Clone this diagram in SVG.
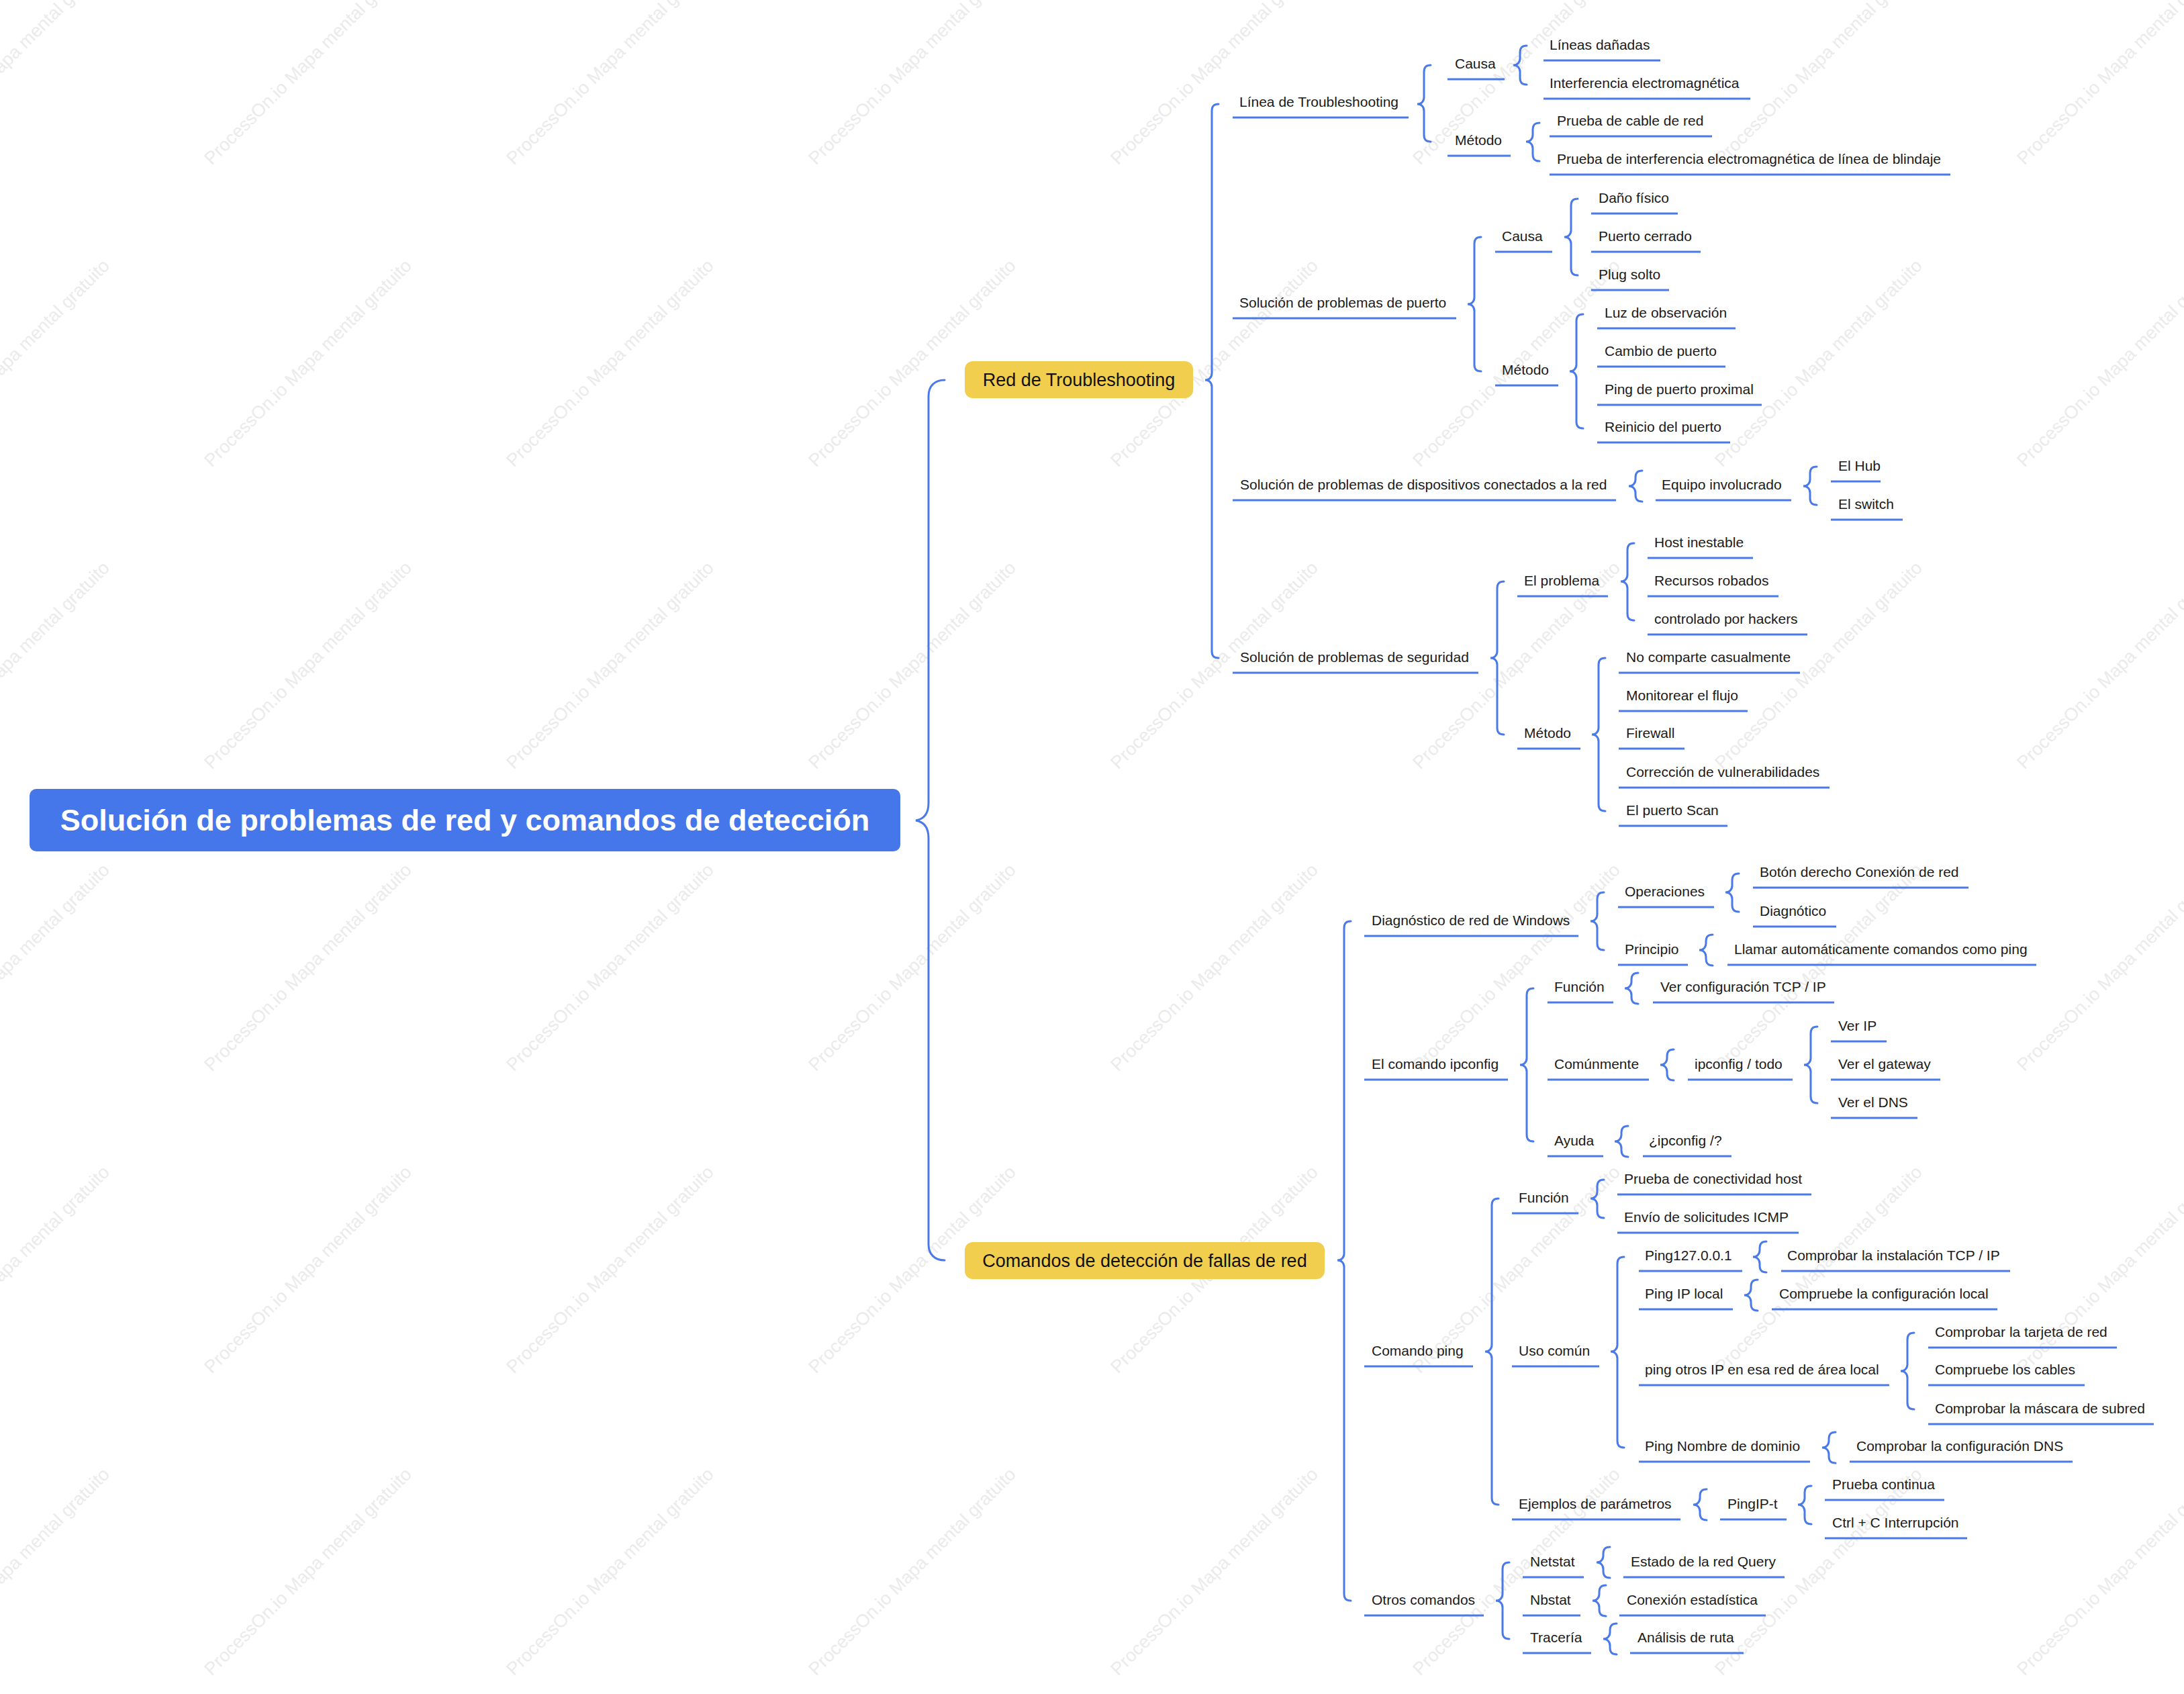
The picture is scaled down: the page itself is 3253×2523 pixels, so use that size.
<svg xmlns="http://www.w3.org/2000/svg" width="3253" height="2523" viewBox="0 0 3253 2523">
<style>
.wm{font-family:"Liberation Sans",Arial,sans-serif;font-size:27px;fill:#ebebeb;text-anchor:middle}
.n text{font-family:"Liberation Sans",Arial,sans-serif;font-size:21px;fill:#1a1a1a}
.n path{stroke:#4a7aea;stroke-width:3;fill:none}
.br path{stroke:#4a7aea;stroke-width:3;fill:none;stroke-linecap:round}
.l1 text{font-family:"Liberation Sans",Arial,sans-serif;font-size:27px;fill:#111;text-anchor:middle}
</style>
<rect width="3253" height="2523" fill="#fff"/>
<g id="watermarks">
<text class="wm" x="15" y="97" transform="rotate(-45 15 97)">ProcessOn.io Mapa mental gratuito</text>
<text class="wm" x="465" y="97" transform="rotate(-45 465 97)">ProcessOn.io Mapa mental gratuito</text>
<text class="wm" x="915" y="97" transform="rotate(-45 915 97)">ProcessOn.io Mapa mental gratuito</text>
<text class="wm" x="1365" y="97" transform="rotate(-45 1365 97)">ProcessOn.io Mapa mental gratuito</text>
<text class="wm" x="1815" y="97" transform="rotate(-45 1815 97)">ProcessOn.io Mapa mental gratuito</text>
<text class="wm" x="2265" y="97" transform="rotate(-45 2265 97)">ProcessOn.io Mapa mental gratuito</text>
<text class="wm" x="2715" y="97" transform="rotate(-45 2715 97)">ProcessOn.io Mapa mental gratuito</text>
<text class="wm" x="3165" y="97" transform="rotate(-45 3165 97)">ProcessOn.io Mapa mental gratuito</text>
<text class="wm" x="15" y="547" transform="rotate(-45 15 547)">ProcessOn.io Mapa mental gratuito</text>
<text class="wm" x="465" y="547" transform="rotate(-45 465 547)">ProcessOn.io Mapa mental gratuito</text>
<text class="wm" x="915" y="547" transform="rotate(-45 915 547)">ProcessOn.io Mapa mental gratuito</text>
<text class="wm" x="1365" y="547" transform="rotate(-45 1365 547)">ProcessOn.io Mapa mental gratuito</text>
<text class="wm" x="1815" y="547" transform="rotate(-45 1815 547)">ProcessOn.io Mapa mental gratuito</text>
<text class="wm" x="2265" y="547" transform="rotate(-45 2265 547)">ProcessOn.io Mapa mental gratuito</text>
<text class="wm" x="2715" y="547" transform="rotate(-45 2715 547)">ProcessOn.io Mapa mental gratuito</text>
<text class="wm" x="3165" y="547" transform="rotate(-45 3165 547)">ProcessOn.io Mapa mental gratuito</text>
<text class="wm" x="15" y="997" transform="rotate(-45 15 997)">ProcessOn.io Mapa mental gratuito</text>
<text class="wm" x="465" y="997" transform="rotate(-45 465 997)">ProcessOn.io Mapa mental gratuito</text>
<text class="wm" x="915" y="997" transform="rotate(-45 915 997)">ProcessOn.io Mapa mental gratuito</text>
<text class="wm" x="1365" y="997" transform="rotate(-45 1365 997)">ProcessOn.io Mapa mental gratuito</text>
<text class="wm" x="1815" y="997" transform="rotate(-45 1815 997)">ProcessOn.io Mapa mental gratuito</text>
<text class="wm" x="2265" y="997" transform="rotate(-45 2265 997)">ProcessOn.io Mapa mental gratuito</text>
<text class="wm" x="2715" y="997" transform="rotate(-45 2715 997)">ProcessOn.io Mapa mental gratuito</text>
<text class="wm" x="3165" y="997" transform="rotate(-45 3165 997)">ProcessOn.io Mapa mental gratuito</text>
<text class="wm" x="15" y="1447" transform="rotate(-45 15 1447)">ProcessOn.io Mapa mental gratuito</text>
<text class="wm" x="465" y="1447" transform="rotate(-45 465 1447)">ProcessOn.io Mapa mental gratuito</text>
<text class="wm" x="915" y="1447" transform="rotate(-45 915 1447)">ProcessOn.io Mapa mental gratuito</text>
<text class="wm" x="1365" y="1447" transform="rotate(-45 1365 1447)">ProcessOn.io Mapa mental gratuito</text>
<text class="wm" x="1815" y="1447" transform="rotate(-45 1815 1447)">ProcessOn.io Mapa mental gratuito</text>
<text class="wm" x="2265" y="1447" transform="rotate(-45 2265 1447)">ProcessOn.io Mapa mental gratuito</text>
<text class="wm" x="2715" y="1447" transform="rotate(-45 2715 1447)">ProcessOn.io Mapa mental gratuito</text>
<text class="wm" x="3165" y="1447" transform="rotate(-45 3165 1447)">ProcessOn.io Mapa mental gratuito</text>
<text class="wm" x="15" y="1897" transform="rotate(-45 15 1897)">ProcessOn.io Mapa mental gratuito</text>
<text class="wm" x="465" y="1897" transform="rotate(-45 465 1897)">ProcessOn.io Mapa mental gratuito</text>
<text class="wm" x="915" y="1897" transform="rotate(-45 915 1897)">ProcessOn.io Mapa mental gratuito</text>
<text class="wm" x="1365" y="1897" transform="rotate(-45 1365 1897)">ProcessOn.io Mapa mental gratuito</text>
<text class="wm" x="1815" y="1897" transform="rotate(-45 1815 1897)">ProcessOn.io Mapa mental gratuito</text>
<text class="wm" x="2265" y="1897" transform="rotate(-45 2265 1897)">ProcessOn.io Mapa mental gratuito</text>
<text class="wm" x="2715" y="1897" transform="rotate(-45 2715 1897)">ProcessOn.io Mapa mental gratuito</text>
<text class="wm" x="3165" y="1897" transform="rotate(-45 3165 1897)">ProcessOn.io Mapa mental gratuito</text>
<text class="wm" x="15" y="2347" transform="rotate(-45 15 2347)">ProcessOn.io Mapa mental gratuito</text>
<text class="wm" x="465" y="2347" transform="rotate(-45 465 2347)">ProcessOn.io Mapa mental gratuito</text>
<text class="wm" x="915" y="2347" transform="rotate(-45 915 2347)">ProcessOn.io Mapa mental gratuito</text>
<text class="wm" x="1365" y="2347" transform="rotate(-45 1365 2347)">ProcessOn.io Mapa mental gratuito</text>
<text class="wm" x="1815" y="2347" transform="rotate(-45 1815 2347)">ProcessOn.io Mapa mental gratuito</text>
<text class="wm" x="2265" y="2347" transform="rotate(-45 2265 2347)">ProcessOn.io Mapa mental gratuito</text>
<text class="wm" x="2715" y="2347" transform="rotate(-45 2715 2347)">ProcessOn.io Mapa mental gratuito</text>
<text class="wm" x="3165" y="2347" transform="rotate(-45 3165 2347)">ProcessOn.io Mapa mental gratuito</text>
</g>

<g id="connectors" class="br">
<path d="M1407 566C1392 566 1383 575 1383 590V1196C1383 1212 1376 1220 1364 1222C1376 1224 1383 1232 1383 1248V1853C1383 1868 1392 1877 1407 1877" stroke-width="4"/>
<path d="M1815 155c-7 0-10 3-10 10V556c0 6-4 10-10 10c6 0 10 4 10 10V970c0 7 3 10 10 10"/>
<path d="M2131 97c-7 0-10 3-10 10V145c0 6-4 10-10 10c6 0 10 4 10 10V201c0 7 3 10 10 10"/>
<path d="M2274 68c-7 0-10 3-10 10V87c0 6-4 10-10 10c6 0 10 4 10 10V116c0 7 3 10 10 10"/>
<path d="M2293 183c-7 0-10 3-10 10V201c0 6-4 10-10 10c6 0 10 4 10 10V230c0 7 3 10 10 10"/>
<path d="M2206 353c-7 0-10 3-10 10V443c0 6-4 10-10 10c6 0 10 4 10 10V543c0 7 3 10 10 10"/>
<path d="M2350 296c-7 0-10 3-10 10V343c0 6-4 10-10 10c6 0 10 4 10 10V400c0 7 3 10 10 10"/>
<path d="M2358 468c-7 0-10 3-10 10V543c0 6-4 10-10 10c6 0 10 4 10 10V628c0 7 3 10 10 10"/>
<path d="M2446 701c-7 0-10 3-10 10V714c0 6-4 10-10 10c6 0 10 4 10 10V737c0 7 3 10 10 10"/>
<path d="M2706 695c-7 0-10 3-10 10V714c0 6-4 10-10 10c6 0 10 4 10 10V742c0 7 3 10 10 10"/>
<path d="M2240 866c-7 0-10 3-10 10V970c0 6-4 10-10 10c6 0 10 4 10 10V1084c0 7 3 10 10 10"/>
<path d="M2434 809c-7 0-10 3-10 10V856c0 6-4 10-10 10c6 0 10 4 10 10V914c0 7 3 10 10 10"/>
<path d="M2391 980c-7 0-10 3-10 10V1084c0 6-4 10-10 10c6 0 10 4 10 10V1198c0 7 3 10 10 10"/>
<path d="M2012 1372c-7 0-10 3-10 10V1867c0 6-4 10-10 10c6 0 10 4 10 10V2374c0 7 3 10 10 10"/>
<path d="M2389 1329c-7 0-10 3-10 10V1362c0 6-4 10-10 10c6 0 10 4 10 10V1405c0 7 3 10 10 10"/>
<path d="M2590 1301c-7 0-10 3-10 10V1319c0 6-4 10-10 10c6 0 10 4 10 10V1348c0 7 3 10 10 10"/>
<path d="M2551 1392c-7 0-10 3-10 10V1405c0 6-4 10-10 10c6 0 10 4 10 10V1428c0 7 3 10 10 10"/>
<path d="M2284 1472c-7 0-10 3-10 10V1576c0 6-4 10-10 10c6 0 10 4 10 10V1690c0 7 3 10 10 10"/>
<path d="M2440 1449c-7 0-10 3-10 10V1462c0 6-4 10-10 10c6 0 10 4 10 10V1485c0 7 3 10 10 10"/>
<path d="M2493 1563c-7 0-10 3-10 10V1576c0 6-4 10-10 10c6 0 10 4 10 10V1599c0 7 3 10 10 10"/>
<path d="M2707 1529c-7 0-10 3-10 10V1576c0 6-4 10-10 10c6 0 10 4 10 10V1633c0 7 3 10 10 10"/>
<path d="M2425 1677c-7 0-10 3-10 10V1690c0 6-4 10-10 10c6 0 10 4 10 10V1713c0 7 3 10 10 10"/>
<path d="M2232 1785c-7 0-10 3-10 10V2003c0 6-4 10-10 10c6 0 10 4 10 10V2231c0 7 3 10 10 10"/>
<path d="M2389 1757c-7 0-10 3-10 10V1775c0 6-4 10-10 10c6 0 10 4 10 10V1804c0 7 3 10 10 10"/>
<path d="M2419 1872c-7 0-10 3-10 10V2003c0 6-4 10-10 10c6 0 10 4 10 10V2146c0 7 3 10 10 10"/>
<path d="M2631 1849c-7 0-10 3-10 10V1862c0 6-4 10-10 10c6 0 10 4 10 10V1885c0 7 3 10 10 10"/>
<path d="M2618 1906c-7 0-10 3-10 10V1919c0 6-4 10-10 10c6 0 10 4 10 10V1942c0 7 3 10 10 10"/>
<path d="M2851 1985c-7 0-10 3-10 10V2032c0 6-4 10-10 10c6 0 10 4 10 10V2089c0 7 3 10 10 10"/>
<path d="M2734 2133c-7 0-10 3-10 10V2146c0 6-4 10-10 10c6 0 10 4 10 10V2169c0 7 3 10 10 10"/>
<path d="M2542 2218c-7 0-10 3-10 10V2231c0 6-4 10-10 10c6 0 10 4 10 10V2254c0 7 3 10 10 10"/>
<path d="M2698 2213c-7 0-10 3-10 10V2231c0 6-4 10-10 10c6 0 10 4 10 10V2260c0 7 3 10 10 10"/>
<path d="M2248 2327c-7 0-10 3-10 10V2374c0 6-4 10-10 10c6 0 10 4 10 10V2431c0 7 3 10 10 10"/>
<path d="M2398 2304c-7 0-10 3-10 10V2317c0 6-4 10-10 10c6 0 10 4 10 10V2340c0 7 3 10 10 10"/>
<path d="M2392 2361c-7 0-10 3-10 10V2374c0 6-4 10-10 10c6 0 10 4 10 10V2397c0 7 3 10 10 10"/>
<path d="M2408 2418c-7 0-10 3-10 10V2431c0 6-4 10-10 10c6 0 10 4 10 10V2454c0 7 3 10 10 10"/>
</g>

<g id="root">
<rect x="44" y="1175" width="1297" height="93" rx="10" fill="#4677ea"/>
<text x="692.5" y="1237" font-family="Liberation Sans, Arial, sans-serif" font-size="45" font-weight="bold" fill="#fff" text-anchor="middle">Solución de problemas de red y comandos de detección</text>
</g>
<g id="n_red" class="l1">
<rect x="1437" y="538" width="340" height="55" rx="12" fill="#f2ce4f"/>
<text x="1607" y="575">Red de Troubleshooting</text>
</g>
<g id="n_comandos" class="l1">
<rect x="1437" y="1850" width="536" height="55" rx="12" fill="#f2ce4f"/>
<text x="1705" y="1887">Comandos de detección de fallas de red</text>
</g>

<g id="n_linea" class="n"><text x="1846" y="159">Línea de Troubleshooting</text><path d="M1836 175H2098"/></g>
<g id="n_l_causa" class="n"><text x="2167" y="102">Causa</text><path d="M2156 118H2241"/></g>
<g id="n_l_metodo" class="n"><text x="2167" y="216">Método</text><path d="M2156 232H2250"/></g>
<g id="n_lineas" class="n"><text x="2308" y="74">Líneas dañadas</text><path d="M2299 90H2473"/></g>
<g id="n_interf" class="n"><text x="2308" y="131">Interferencia electromagnética</text><path d="M2299 147H2607"/></g>
<g id="n_prueba_cable" class="n"><text x="2319" y="187">Prueba de cable de red</text><path d="M2308 203H2550"/></g>
<g id="n_prueba_interf" class="n"><text x="2319" y="244">Prueba de interferencia electromagnética de línea de blindaje</text><path d="M2308 260H2905"/></g>

<g id="n_puerto" class="n"><text x="1846" y="458">Solución de problemas de puerto</text><path d="M1836 474H2169"/></g>
<g id="n_p_causa" class="n"><text x="2237" y="359">Causa</text><path d="M2227 375H2312"/></g>
<g id="n_p_metodo" class="n"><text x="2237" y="558">Método</text><path d="M2227 574H2321"/></g>
<g id="n_dano" class="n"><text x="2381" y="302">Daño físico</text><path d="M2370 318H2499"/></g>
<g id="n_cerrado" class="n"><text x="2381" y="359">Puerto cerrado</text><path d="M2370 375H2533"/></g>
<g id="n_plug" class="n"><text x="2381" y="416">Plug solto</text><path d="M2370 432H2486"/></g>
<g id="n_luz" class="n"><text x="2390" y="473">Luz de observación</text><path d="M2379 489H2585"/></g>
<g id="n_cambio" class="n"><text x="2390" y="530">Cambio de puerto</text><path d="M2379 546H2570"/></g>
<g id="n_pingprox" class="n"><text x="2390" y="587">Ping de puerto proximal</text><path d="M2379 603H2624"/></g>
<g id="n_reinicio" class="n"><text x="2390" y="643">Reinicio del puerto</text><path d="M2379 659H2577"/></g>

<g id="n_disp" class="n"><text x="1847" y="729">Solución de problemas de dispositivos conectados a la red</text><path d="M1836 745H2407"/></g>
<g id="n_equipo" class="n"><text x="2475" y="729">Equipo involucrado</text><path d="M2466 745H2668"/></g>
<g id="n_hub" class="n"><text x="2738" y="701">El Hub</text><path d="M2727 717H2801"/></g>
<g id="n_switch" class="n"><text x="2738" y="758">El switch</text><path d="M2727 774H2834"/></g>

<g id="n_seg" class="n"><text x="1847" y="986">Solución de problemas de seguridad</text><path d="M1836 1002H2202"/></g>
<g id="n_problema" class="n"><text x="2270" y="872">El problema</text><path d="M2260 888H2395"/></g>
<g id="n_s_metodo" class="n"><text x="2270" y="1099">Método</text><path d="M2260 1115H2354"/></g>
<g id="n_host" class="n"><text x="2464" y="815">Host inestable</text><path d="M2454 831H2611"/></g>
<g id="n_recursos" class="n"><text x="2464" y="872">Recursos robados</text><path d="M2454 888H2649"/></g>
<g id="n_hackers" class="n"><text x="2464" y="929">controlado por hackers</text><path d="M2454 945H2692"/></g>
<g id="n_nocomparte" class="n"><text x="2422" y="986">No comparte casualmente</text><path d="M2411 1002H2681"/></g>
<g id="n_monitorear" class="n"><text x="2422" y="1043">Monitorear el flujo</text><path d="M2411 1059H2603"/></g>
<g id="n_firewall" class="n"><text x="2422" y="1099">Firewall</text><path d="M2411 1115H2509"/></g>
<g id="n_correccion" class="n"><text x="2422" y="1157">Corrección de vulnerabilidades</text><path d="M2411 1173H2725"/></g>
<g id="n_scan" class="n"><text x="2422" y="1214">El puerto Scan</text><path d="M2411 1230H2573"/></g>

<g id="n_diag" class="n"><text x="2043" y="1378">Diagnóstico de red de Windows</text><path d="M2032 1394H2351"/></g>
<g id="n_operaciones" class="n"><text x="2420" y="1335">Operaciones</text><path d="M2410 1351H2553"/></g>
<g id="n_principio" class="n"><text x="2420" y="1421">Principio</text><path d="M2410 1437H2514"/></g>
<g id="n_boton" class="n"><text x="2621" y="1306">Botón derecho Conexión de red</text><path d="M2611 1322H2932"/></g>
<g id="n_diagnotico" class="n"><text x="2621" y="1364">Diagnótico</text><path d="M2611 1380H2735"/></g>
<g id="n_llamar" class="n"><text x="2583" y="1421">Llamar automáticamente comandos como ping</text><path d="M2573 1437H3033"/></g>

<g id="n_ipconfig" class="n"><text x="2043" y="1592">El comando ipconfig</text><path d="M2032 1608H2246"/></g>
<g id="n_i_funcion" class="n"><text x="2315" y="1477">Función</text><path d="M2305 1493H2403"/></g>
<g id="n_vercfg" class="n"><text x="2473" y="1477">Ver configuración TCP / IP</text><path d="M2462 1493H2732"/></g>
<g id="n_comun" class="n"><text x="2315" y="1592">Comúnmente</text><path d="M2305 1608H2456"/></g>
<g id="n_todo" class="n"><text x="2524" y="1592">ipconfig / todo</text><path d="M2514 1608H2670"/></g>
<g id="n_verip" class="n"><text x="2738" y="1535">Ver IP</text><path d="M2727 1551H2810"/></g>
<g id="n_gateway" class="n"><text x="2738" y="1592">Ver el gateway</text><path d="M2727 1608H2890"/></g>
<g id="n_dns" class="n"><text x="2738" y="1649">Ver el DNS</text><path d="M2727 1665H2856"/></g>
<g id="n_ayuda" class="n"><text x="2315" y="1706">Ayuda</text><path d="M2305 1722H2388"/></g>
<g id="n_help" class="n"><text x="2456" y="1706">¿ipconfig /?</text><path d="M2447 1722H2579"/></g>

<g id="n_ping" class="n"><text x="2043" y="2019">Comando ping</text><path d="M2032 2035H2194"/></g>
<g id="n_p_funcion" class="n"><text x="2262" y="1791">Función</text><path d="M2252 1807H2351"/></g>
<g id="n_conect" class="n"><text x="2419" y="1763">Prueba de conectividad host</text><path d="M2409 1779H2698"/></g>
<g id="n_icmp" class="n"><text x="2419" y="1820">Envío de solicitudes ICMP</text><path d="M2409 1836H2679"/></g>
<g id="n_uso" class="n"><text x="2262" y="2019">Uso común</text><path d="M2252 2035H2382"/></g>
<g id="n_ping127" class="n"><text x="2450" y="1877">Ping127.0.0.1</text><path d="M2441 1893H2595"/></g>
<g id="n_inst" class="n"><text x="2662" y="1877">Comprobar la instalación TCP / IP</text><path d="M2653 1893H2994"/></g>
<g id="n_pinglocal" class="n"><text x="2450" y="1934">Ping IP local</text><path d="M2441 1950H2581"/></g>
<g id="n_cfglocal" class="n"><text x="2650" y="1934">Compruebe la configuración local</text><path d="M2639 1950H2975"/></g>
<g id="n_pingotros" class="n"><text x="2450" y="2047">ping otros IP en esa red de área local</text><path d="M2441 2063H2814"/></g>
<g id="n_tarjeta" class="n"><text x="2882" y="1991">Comprobar la tarjeta de red</text><path d="M2872 2007H3153"/></g>
<g id="n_cables" class="n"><text x="2882" y="2047">Compruebe los cables</text><path d="M2872 2063H3105"/></g>
<g id="n_mascara" class="n"><text x="2882" y="2105">Comprobar la máscara de subred</text><path d="M2872 2121H3208"/></g>
<g id="n_pingdom" class="n"><text x="2450" y="2161">Ping Nombre de dominio</text><path d="M2441 2177H2696"/></g>
<g id="n_dnscfg" class="n"><text x="2765" y="2161">Comprobar la configuración DNS</text><path d="M2755 2177H3087"/></g>
<g id="n_ejemplos" class="n"><text x="2262" y="2247">Ejemplos de parámetros</text><path d="M2252 2263H2503"/></g>
<g id="n_pingipt" class="n"><text x="2573" y="2247">PingIP-t</text><path d="M2562 2263H2661"/></g>
<g id="n_continua" class="n"><text x="2729" y="2218">Prueba continua</text><path d="M2718 2234H2896"/></g>
<g id="n_ctrlc" class="n"><text x="2729" y="2275">Ctrl + C Interrupción</text><path d="M2718 2291H2930"/></g>

<g id="n_otros" class="n"><text x="2043" y="2390">Otros comandos</text><path d="M2032 2406H2210"/></g>
<g id="n_netstat" class="n"><text x="2279" y="2333">Netstat</text><path d="M2268 2349H2359"/></g>
<g id="n_nbstat" class="n"><text x="2279" y="2390">Nbstat</text><path d="M2268 2406H2354"/></g>
<g id="n_traceria" class="n"><text x="2279" y="2446">Tracería</text><path d="M2268 2462H2370"/></g>
<g id="n_estado" class="n"><text x="2429" y="2333">Estado de la red Query</text><path d="M2418 2349H2658"/></g>
<g id="n_conexion" class="n"><text x="2423" y="2390">Conexión estadística</text><path d="M2412 2406H2630"/></g>
<g id="n_analisis" class="n"><text x="2439" y="2446">Análisis de ruta</text><path d="M2428 2462H2597"/></g>
</svg>
